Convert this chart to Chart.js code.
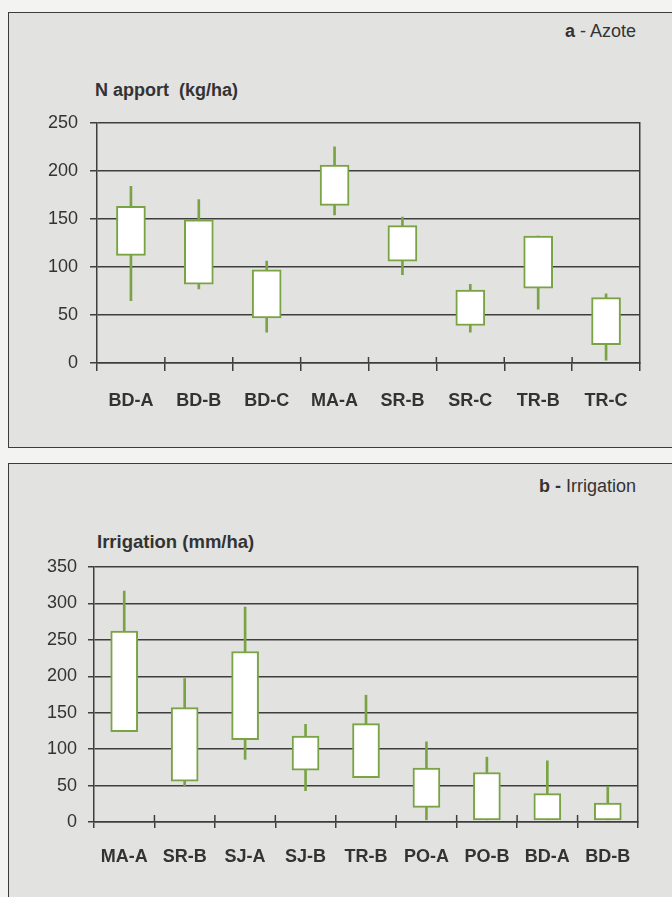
<!DOCTYPE html>
<html>
<head>
<meta charset="utf-8">
<script src="https://cdn.jsdelivr.net/npm/chart.js@4.4.0/dist/chart.umd.min.js"></script>
<style>
  body { margin:0; width:672px; height:897px; overflow:hidden; background:#f3f3f2; position:relative;
         font-family:"Liberation Sans", Arial, sans-serif; color:#333; }
  .panel { position:absolute; left:8px; width:700px; background:#e2e2e1; border:1.5px solid #3c3c3c; border-right:none; }
  .tag { position:absolute; left:0; text-align:right; font-size:18px; line-height:18px; white-space:pre; }
  .ytitle { position:absolute; font-size:18px; line-height:18px; font-weight:bold; white-space:pre; }
  canvas { position:absolute; left:0; }
</style>
</head>
<body>
<div class="panel" style="top:12px;height:434px;"></div>
<div class="panel" style="top:463px;height:460px;border-bottom:none;"></div>

<div class="tag" style="top:22px;width:636px;"><b>a</b> - Azote</div>
<div class="ytitle" style="left:95px;top:81px;">N apport  (kg/ha)</div>
<div class="tag" style="top:477px;width:636px;"><b>b -</b> Irrigation</div>
<div class="ytitle" style="left:97px;top:533px;font-size:18.5px;">Irrigation (mm/ha)</div>

<canvas id="chartA" width="672" height="345" style="top:100px;"></canvas>
<canvas id="chartB" width="672" height="357" style="top:540px;"></canvas>

<script>
// a - Azote
const catsA = ['BD-A', 'BD-B', 'BD-C', 'MA-A', 'SR-B', 'SR-C', 'TR-B', 'TR-C'];
const minA = [65, 77, 32, 154, 92, 32, 56, 3];
const q1A  = [112, 82, 47, 164, 106, 39, 78, 19];
const q3A  = [163, 149, 97, 206, 143, 76, 132, 68];
const maxA = [184, 170, 106, 225, 152, 82, 132, 72];
const ticksA = [0, 50, 100, 150, 200, 250];

// b - Irrigation
const catsB = ['MA-A', 'SR-B', 'SJ-A', 'SJ-B', 'TR-B', 'PO-A', 'PO-B', 'BD-A', 'BD-B'];
const minB = [124, 50, 86, 43, 61, 3, 3, 3, 3];
const q1B  = [124, 56, 113, 71, 61, 20, 3, 3, 3];
const q3B  = [262, 157, 234, 118, 135, 74, 68, 39, 26];
const maxB = [317, 197, 295, 134, 174, 110, 89, 84, 49];
const ticksB = [0, 50, 100, 150, 200, 250, 300, 350];

const green = '#7aa444';
const lineCol = '#3e3e3e';
const txtCol = '#333';

// small marks above the axis at the category boundaries
const crossTicks = {
  id: 'crossTicks',
  afterDraw(chart, args, opts) {
    const x = chart.scales.x, ctx = chart.ctx;
    const n = x.ticks.length;
    ctx.save();
    ctx.strokeStyle = lineCol;
    ctx.lineWidth = 1.5;
    for (let i = 1; i < n; i++) {
      const px = x.left + i * x.width / n;
      ctx.beginPath();
      ctx.moveTo(px, x.top - opts.up);
      ctx.lineTo(px, x.top);
      ctx.stroke();
    }
    ctx.restore();
  }
};

function makeChart(id, cats, mins, q1, q3, maxs, tickVals, o) {
  new Chart(document.getElementById(id), {
    type: 'bar',
    data: {
      labels: cats,
      datasets: [
        {
          data: cats.map((c, i) => [q1[i], q3[i]]),
          backgroundColor: '#ffffff',
          borderColor: green,
          borderWidth: 2,
          borderSkipped: false,
          barThickness: o.box,
          grouped: false
        },
        {
          data: cats.map((c, i) => [mins[i], maxs[i]]),
          backgroundColor: green,
          borderWidth: 0,
          barThickness: 2,
          grouped: false
        }
      ]
    },
    options: {
      responsive: false,
      animation: false,
      events: [],
      layout: { padding: { left: 0, top: o.top, right: o.right, bottom: 0 } },
      plugins: { legend: { display: false }, tooltip: { enabled: false }, crossTicks: { up: o.up } },
      scales: {
        x: {
          grid: { drawOnChartArea: false, color: lineCol, lineWidth: 1.5, tickLength: o.xTick, offset: true },
          border: { display: true, color: lineCol, width: 1.5 },
          ticks: { color: txtCol, padding: o.xPad, font: { family: 'Liberation Sans', size: 18, weight: 'bold' } },
          afterFit(s) { s.height = o.xH; }
        },
        y: {
          min: 0,
          max: tickVals[tickVals.length - 1],
          afterBuildTicks(s) { s.ticks = tickVals.map(v => ({ value: v })); },
          grid: { color: lineCol, lineWidth: 1.5, tickLength: o.yTick },
          border: { display: true, color: lineCol, width: 1.5 },
          ticks: { color: txtCol, padding: o.yPad, font: { family: 'Liberation Sans', size: 18 } },
          afterFit(s) { s.width = o.yW; }
        },
        y2: {
          position: 'right',
          grid: { display: false },
          ticks: { display: false },
          border: { display: true, color: lineCol, width: 1.5 },
          afterFit(s) { s.width = 0; }
        }
      }
    },
    plugins: [crossTicks]
  });
}

makeChart('chartA', catsA, minA, q1A, q3A, maxA, ticksA,
  { box: 29, top: 14, right: 32, xH: 82, yW: 97, xTick: 8, xPad: 19, yTick: 7, yPad: 12, up: 6 });
makeChart('chartB', catsB, minB, q1B, q3B, maxB, ticksB,
  { box: 27, top: 27, right: 34, xH: 75, yW: 94, xTick: 6, xPad: 18, yTick: 6, yPad: 11, up: 7 });
</script>
</body>
</html>
